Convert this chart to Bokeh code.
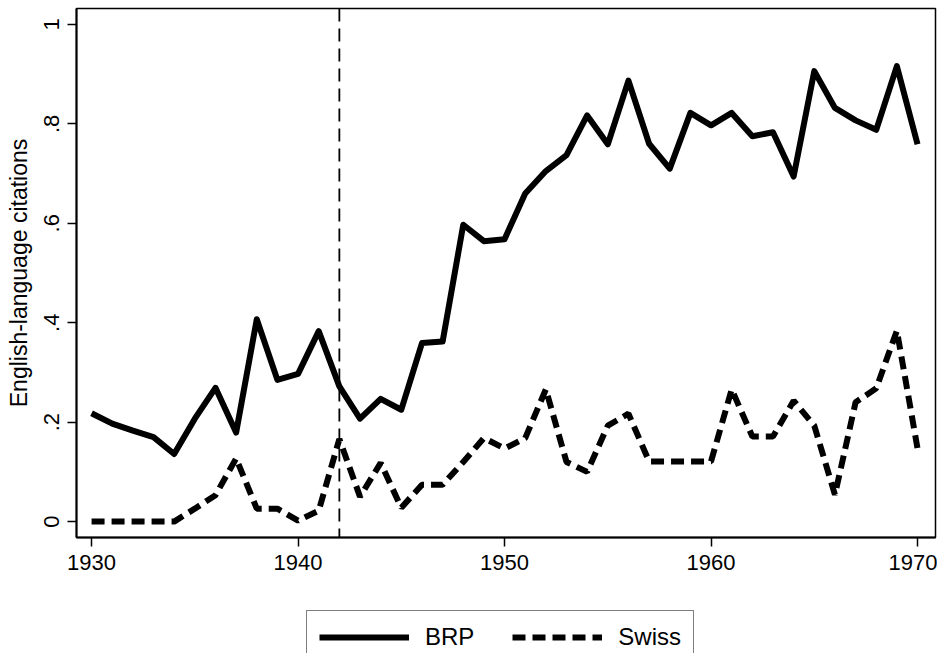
from bokeh.plotting import figure
from bokeh.layouts import column
from bokeh.models import Span, Legend, LegendItem, FixedTicker, Range1d
from bokeh.embed import file_html
from bokeh.resources import INLINE

years = list(range(1930, 1971))
brp = [0.218, 0.197, 0.183, 0.170, 0.136, 0.207, 0.269, 0.179, 0.407, 0.285,
       0.297, 0.383, 0.272, 0.207, 0.247, 0.225, 0.359, 0.362, 0.597, 0.564,
       0.568, 0.660, 0.705, 0.737, 0.817, 0.759, 0.887, 0.760, 0.710, 0.822,
       0.797, 0.822, 0.775, 0.783, 0.694, 0.906, 0.832, 0.807, 0.788, 0.916,
       0.759]
swiss = [0.0, 0.0, 0.0, 0.0, 0.0, 0.026, 0.053, 0.127, 0.026, 0.026,
         0.002, 0.022, 0.166, 0.050, 0.118, 0.028, 0.074, 0.074, 0.120, 0.168,
         0.147, 0.168, 0.266, 0.120, 0.100, 0.193, 0.217, 0.121, 0.121, 0.121,
         0.121, 0.266, 0.171, 0.171, 0.243, 0.193, 0.054, 0.240, 0.268, 0.384,
         0.147]
series_labels = ["BRP", "Swiss"]
x_ticks = [1930, 1940, 1950, 1960, 1970]
y_ticks = [0, 0.2, 0.4, 0.6, 0.8, 1.0]
y_tick_labels = ["0", ".2", ".4", ".6", ".8", "1"]
event_year = 1942

FONT = "Liberation Sans"
LW = 6
DASH = "13 7"

p = figure(width=937, height=600, output_backend="svg", toolbar_location=None,
           x_range=Range1d(1929.27, 1970.87), y_range=Range1d(-0.032, 1.032),
           min_border_left=76, min_border_right=2, min_border_top=8,
           min_border_bottom=63)
p.background_fill_color = "white"
p.border_fill_color = "white"
p.outline_line_color = "black"
p.outline_line_width = 1.5
p.xgrid.visible = False
p.ygrid.visible = False

p.line(years, brp, line_color="black", line_width=LW, line_join="round")
p.line(years, swiss, line_color="black", line_width=LW, line_dash=DASH)

p.add_layout(Span(location=event_year, dimension="height", line_color="black",
                  line_width=1.8, line_dash="13 7"))

xa = p.xaxis[0]
xa.ticker = FixedTicker(ticks=x_ticks)
xa.minor_tick_line_color = None
xa.major_tick_out = 9
xa.major_tick_in = 0
xa.major_tick_line_width = 1.5
xa.axis_line_width = 2
xa.major_label_text_font = FONT
xa.major_label_text_font_size = "22px"
xa.major_label_text_color = "black"
xa.major_label_standoff = 8

ya = p.yaxis[0]
ya.ticker = FixedTicker(ticks=y_ticks)
ya.major_label_overrides = {t: l for t, l in zip(y_ticks, y_tick_labels)}
ya.minor_tick_line_color = None
ya.major_tick_out = 9
ya.major_tick_in = 0
ya.major_tick_line_width = 1.5
ya.axis_line_width = 2
ya.major_label_orientation = "vertical"
ya.major_label_text_font = FONT
ya.major_label_text_font_size = "22px"
ya.major_label_text_color = "black"
ya.major_label_standoff = 8
ya.axis_label = "English-language citations"
ya.axis_label_text_font = FONT
ya.axis_label_text_font_size = "23px"
ya.axis_label_text_font_style = "normal"
ya.axis_label_text_color = "black"
ya.axis_label_standoff = 10

# legend strip below the plot (its frame is aligned with the main frame)
lg = figure(width=937, height=53, output_backend="svg", toolbar_location=None,
            x_range=Range1d(0, 1), y_range=Range1d(0, 1),
            min_border_left=0, min_border_right=0, min_border_top=0,
            min_border_bottom=0)
lg.outline_line_color = None
lg.axis.visible = False
lg.xgrid.visible = False
lg.ygrid.visible = False
# keys: same series, placed outside this strip's ranges so only the legend keys show
k_brp = lg.line(years, brp, line_color="black", line_width=LW)
k_swiss = lg.line(years, swiss, line_color="black", line_width=LW, line_dash=DASH)

legend = Legend(items=[LegendItem(label=series_labels[0], renderers=[k_brp]),
                       LegendItem(label=series_labels[1], renderers=[k_swiss])],
                orientation="horizontal", location=(230, -11))
legend.glyph_width = 90
legend.glyph_height = 24
legend.label_height = 24
legend.label_standoff = 16
legend.spacing = 38
legend.padding = 12
legend.margin = 0
legend.label_text_font = FONT
legend.label_text_font_size = "24px"
legend.label_text_color = "black"
legend.border_line_color = "black"
legend.border_line_width = 1.2
legend.background_fill_color = "white"
legend.background_fill_alpha = 1
lg.add_layout(legend, "center")

layout = column(p, lg, spacing=0)
open("out.html", "w").write(file_html(layout, INLINE))
